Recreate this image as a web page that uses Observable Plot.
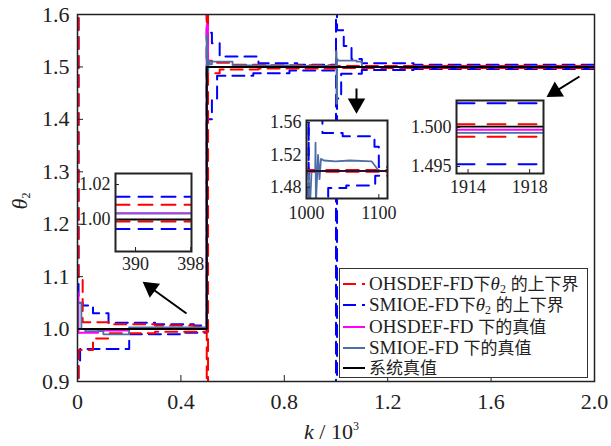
<!DOCTYPE html>
<html><head><meta charset="utf-8">
<script src="https://cdn.jsdelivr.net/npm/d3@7"></script>
<script src="https://cdn.jsdelivr.net/npm/@observablehq/plot@0.6"></script>
<style>
body{margin:0;background:#fff;}
#wrap{position:relative;width:611px;height:446px;overflow:hidden;font-family:"Liberation Serif","Times New Roman",Tinos,"DejaVu Serif","Noto Sans CJK SC",serif;color:#222;}
#wrap svg{position:absolute;}
.lbl{position:absolute;white-space:nowrap;line-height:1;}
#legend{position:absolute;left:339px;top:268px;width:249px;height:110px;border:1.5px solid #333;background:#fff;box-sizing:border-box;}
.row{position:absolute;left:0;height:19px;line-height:19px;font-size:19px;white-space:nowrap;}
.row svg{position:absolute !important;left:3px;top:0;}
.row span.t{position:absolute;left:29px;top:0;line-height:19px;}
.cjk{font-family:"Noto Sans CJK SC",sans-serif;font-size:17px;line-height:17px;}
sub{font-size:12px;vertical-align:-3px;line-height:0;}
sup{font-size:12px;vertical-align:9px;line-height:0;}
</style>
</head><body>
<div id="wrap"></div>
<script>
// ---------- main chart data (k in units of 10^3) ----------
const xTicks = [0, 0.4, 0.8, 1.2, 1.6, 2.0];
const yTicks = [0.9, 1.0, 1.1, 1.2, 1.3, 1.4, 1.5, 1.6];

const sysK = [0, 0.5, 2.0];
const sysV = [1.0, 1.5, 1.5];

const ohsUbK = [0, 0.004, 0.02, 0.12, 0.3, 0.45, 0.5, 0.505, 0.52, 0.6, 0.75, 1.0, 2.0];
const ohsUb  = [1.7, 1.10, 1.013, 1.009, 1.007, 1.005, 1.7, 1.512, 1.508, 1.504, 1.503, 1.502, 1.502];
const ohsLbK = [0, 0.004, 0.06, 0.12, 0.3, 0.5, 0.505, 0.55, 0.7, 1.0, 2.0];
const ohsLb  = [0.8, 0.96, 0.982, 0.992, 0.995, 0.8, 1.488, 1.495, 1.497, 1.498, 1.498];

const smiUbK = [0, 0.004, 0.02, 0.06, 0.12, 0.3, 0.45, 0.5, 0.503, 0.52, 0.55, 0.7, 0.85, 1.0, 1.004, 1.03, 1.06, 1.1, 1.3, 2.0];
const smiUb  = [1.7, 1.05, 1.045, 1.03, 1.012, 1.009, 1.007, 1.7, 1.565, 1.545, 1.52, 1.507, 1.504, 1.7, 1.57, 1.54, 1.515, 1.507, 1.504, 1.504];
const smiLbK = [0, 0.004, 0.01, 0.2, 0.4, 0.5, 0.52, 0.54, 0.68, 0.82, 1.0, 1.004, 1.02, 1.1, 1.3, 2.0];
const smiLb  = [0.8, 0.94, 0.962, 0.99, 0.993, 1.40, 1.44, 1.483, 1.488, 1.493, 0.8, 1.44, 1.487, 1.494, 1.496, 1.496];

const ohsEstK = [0, 0.004, 0.08, 0.2, 0.5, 0.505, 2.0];
const ohsEst  = [1.07, 0.993, 0.997, 1.002, 1.58, 1.5, 1.5];

const smiEstK = [0, 0.002, 0.015, 0.03, 0.1, 0.2, 0.5, 0.502, 0.506, 0.512, 0.52, 0.6, 0.85, 1.0, 1.002, 1.004, 1.006, 1.02, 1.08, 1.1, 2.0];
const smiEst  = [1.0, 1.05, 1.0, 0.996, 0.99, 1.003, 1.56, 1.49, 1.512, 1.505, 1.51, 1.503, 1.502, 1.53, 1.43, 1.515, 1.512, 1.512, 1.51, 1.5, 1.5];

// annotation arrows (data coords): tail, head centre, head rotation
const arrowTailK = [0.4217, 1.0793, 1.942];
const arrowTailV = [1.0297, 1.4589, 1.4817];
const arrowHeadK = [0.2836, 1.0793, 1.8476];
const arrowHeadV = [1.0787, 1.4302, 1.4528];
const arrowRot   = [-54, 180, -122];

// ---------- inset 1 (k 387..398) ----------
const in1X = [387.1, 398.1];
const in1XTicks = [390, 398];
const in1YTicks = [1.00, 1.02];
const in1Dom = [0.9817, 1.0263];
const in1BlueU = 1.013, in1RedU = 1.0085, in1Mag = 1.0037, in1Slate = 1.0033, in1Black = 1.0, in1RedL = 0.9989, in1BlueL = 0.9945;

// ---------- inset 2 (k 1000..1112) ----------
const in2X = [1000, 1112];
const in2XTicks = [1000, 1100];
const in2YTicks = [1.48, 1.52, 1.56];
const in2Dom = [1.466, 1.5625];
const in2UbK = [1000, 1003, 1022, 1050, 1094, 1100, 1112];
const in2Ub  = [1.3, 1.6, 1.547, 1.543, 1.53, 1.505, 1.505];
const in2LbK = [1000, 1003, 1030, 1055, 1095, 1112];
const in2Lb  = [1.6, 1.3, 1.479, 1.482, 1.494, 1.494];
const in2EstK = [1000, 1003, 1003.5, 1005, 1007, 1012, 1012.5, 1013, 1016, 1018, 1020, 1024, 1040, 1060, 1090, 1096, 1100, 1112];
const in2Est  = [1.5, 1.5, 1.46, 1.46, 1.5, 1.5, 1.535, 1.46, 1.52, 1.49, 1.515, 1.513, 1.512, 1.513, 1.512, 1.505, 1.5, 1.5];
const in2RedU = 1.5008, in2RedL = 1.4994, in2Mag = 1.5, in2Black = 1.5;

// ---------- inset 3 (k 1913..1919) ----------
const in3X = [1913.25, 1918.9];
const in3XTicks = [1914, 1918];
const in3YTicks = [1.495, 1.500];
const in3Dom = [1.4941, 1.50346];
const in3BlueU = 1.5031, in3RedU = 1.5004, in3Black = 1.5001, in3Mag = 1.4997, in3Slate = 1.4993, in3RedL = 1.4988, in3BlueL = 1.4953;

// ---------- helpers ----------
const zip = (K, V) => K.map((k, i) => ({k, v: V[i]}));
const RED = "#ff0000", BLUE = "#0000ff", MAG = "#ff00ff", SLATE = "#4f6ea8", BLACK = "#000";
const DASH = "12,7";
const SERIF = '"Liberation Serif", "Times New Roman", Tinos, "DejaVu Serif", serif';
const wrap = document.getElementById("wrap");

function place(el, left, top) { el.style.left = left + "px"; el.style.top = top + "px"; wrap.appendChild(el); }

// ---------- main plot ----------
const main = Plot.plot({
  width: 611, height: 446,
  marginLeft: 77, marginRight: 17, marginTop: 14, marginBottom: 65,
  style: {fontFamily: SERIF, fontSize: "22px", color: "#222", background: "transparent", overflow: "visible"},
  x: {domain: [0, 2], label: null},
  y: {domain: [0.9, 1.6], label: null},
  marks: [
    Plot.line(zip(smiUbK, smiUb), {x: "k", y: "v", curve: "step-after", stroke: BLUE, strokeWidth: 2, strokeDasharray: DASH, clip: true}),
    Plot.line(zip(smiLbK, smiLb), {x: "k", y: "v", curve: "step-after", stroke: BLUE, strokeWidth: 2, strokeDasharray: DASH, clip: true}),
    Plot.line(zip(ohsUbK, ohsUb), {x: "k", y: "v", curve: "step-after", stroke: RED, strokeWidth: 2, strokeDasharray: DASH, clip: true}),
    Plot.line(zip(ohsLbK, ohsLb), {x: "k", y: "v", curve: "step-after", stroke: RED, strokeWidth: 2, strokeDasharray: DASH, clip: true}),
    Plot.line(zip(ohsEstK, ohsEst), {x: "k", y: "v", curve: "step-after", stroke: MAG, strokeWidth: 1.8, clip: true}),
    Plot.line(zip(smiEstK, smiEst), {x: "k", y: "v", curve: "step-after", stroke: SLATE, strokeWidth: 1.8, clip: true}),
    Plot.line(zip(sysK, sysV), {x: "k", y: "v", curve: "step-after", stroke: BLACK, strokeWidth: 2, clip: true}),
    Plot.frame({stroke: "#222", strokeWidth: 1.5}),
    Plot.axisX({ticks: xTicks, tickFormat: d => d === 0 ? "0" : d.toFixed(1), tickSize: -6, tickPadding: 18, fill: "#222", fontFamily: SERIF}),
    Plot.axisY({ticks: yTicks, tickFormat: d => d.toFixed(1), tickSize: -6, tickPadding: 14, fill: "#222", fontFamily: SERIF}),
    Plot.link(arrowTailK.map((k, i) => i), {x1: i => arrowTailK[i], y1: i => arrowTailV[i], x2: i => arrowHeadK[i], y2: i => arrowHeadV[i], stroke: BLACK, strokeWidth: 2}),
    Plot.dot(arrowHeadK.map((k, i) => i), {x: i => arrowHeadK[i], y: i => arrowHeadV[i], rotate: i => arrowRot[i], symbol: "triangle", r: 6.5, fill: BLACK, stroke: "none"})
  ]
});
place(main, 0, 0);

// ---------- inset builder ----------
function inset(o) {
  const svg = Plot.plot({
    width: o.w, height: o.h, marginLeft: o.ml, marginRight: o.w - o.ml - o.bw, marginTop: o.mt, marginBottom: o.h - o.mt - o.bh,
    style: {fontFamily: SERIF, fontSize: "18px", color: "#222", background: "transparent", overflow: "visible"},
    x: {domain: o.xdom, label: null},
    y: {domain: o.ydom, label: null},
    marks: [
      Plot.frame({fill: "white", stroke: "none"}),
      ...o.marks,
      Plot.frame({stroke: "#222", strokeWidth: 2}),
      Plot.axisX({ticks: o.xticks, tickFormat: d => String(d), tickSize: -4, tickPadding: o.xpad, fill: "#222", fontFamily: SERIF}),
      Plot.axisY({ticks: o.yticks, tickFormat: d => d.toFixed(o.yd), tickSize: -4, tickPadding: o.ypad, fill: "#222", fontFamily: SERIF})
    ]
  });
  place(svg, o.left, o.top);
}
const hline = (X, v, stroke, dash, sw) =>
  Plot.line(zip(X, X.map(() => v)), {x: "k", y: "v", stroke, strokeWidth: sw || 2, strokeDasharray: dash || null, clip: true});

// inset 1
inset({left: 65, top: 165, w: 140, h: 115, ml: 50, mt: 8, bw: 76, bh: 78,
  xdom: in1X, ydom: in1Dom, xticks: in1XTicks, yticks: in1YTicks, yd: 2, xpad: 10, ypad: 9,
  marks: [
    hline(in1X, in1BlueU, BLUE, "14,9"), hline(in1X, in1BlueL, BLUE, "14,9"),
    hline(in1X, in1RedU, RED, "14,9"), hline(in1X, in1RedL, RED, "14,9"),
    hline(in1X, in1Mag, MAG, null, 1.8), hline(in1X, in1Slate, "#7a5cc8", null, 1.8),
    hline(in1X, in1Black, BLACK, null, 2)
  ]});

// inset 2
inset({left: 256, top: 110, w: 145, h: 120, ml: 50, mt: 10, bw: 81, bh: 78,
  xdom: in2X, ydom: in2Dom, xticks: in2XTicks, yticks: in2YTicks, yd: 2, xpad: 12, ypad: 9,
  marks: [
    Plot.line(zip(in2UbK, in2Ub), {x: "k", y: "v", curve: "step-after", stroke: BLUE, strokeWidth: 2, strokeDasharray: "12,8", clip: true}),
    Plot.line(zip(in2LbK, in2Lb), {x: "k", y: "v", curve: "step-after", stroke: BLUE, strokeWidth: 2, strokeDasharray: "12,8", clip: true}),
    hline(in2X, in2RedU, RED, "12,8", 2.5), hline(in2X, in2RedL, RED, "12,8", 2.5),
    hline(in2X, in2Mag, MAG, null, 1.5),
    Plot.line(zip(in2EstK, in2Est), {x: "k", y: "v", stroke: SLATE, strokeWidth: 1.8, clip: true}),
    hline(in2X, in2Black, "#2a1030", null, 1.8)
  ]});

// inset 3
inset({left: 400, top: 90, w: 160, h: 115, ml: 56, mt: 10, bw: 87, bh: 73,
  xdom: in3X, ydom: in3Dom, xticks: in3XTicks, yticks: in3YTicks, yd: 3, xpad: 11, ypad: 9,
  marks: [
    hline(in3X, in3BlueU, BLUE, "18,13"), hline(in3X, in3BlueL, BLUE, "18,13"),
    hline(in3X, in3RedU, RED, "18,13"), hline(in3X, in3RedL, RED, "18,13"),
    hline(in3X, in3Black, BLACK, null, 1.8),
    hline(in3X, in3Mag, MAG, null, 2), hline(in3X, in3Slate, SLATE, null, 1.8)
  ]});

// ---------- axis titles ----------
const xl = document.createElement("div");
xl.className = "lbl"; xl.style.fontSize = "22px";
xl.innerHTML = "<i>k</i> / 10<sup>3</sup>";
place(xl, 304, 421);

const yl = document.createElement("div");
yl.className = "lbl"; yl.style.fontSize = "22px";
yl.style.transform = "rotate(-90deg)"; yl.style.transformOrigin = "center";
yl.innerHTML = "<i>θ</i><sub>2</sub>";
place(yl, 12, 190);

// ---------- legend ----------
const legendNames = [
  'OHSDEF-FD<span class="cjk">下</span><i>θ</i><sub>2</sub> <span class="cjk">的上下界</span>',
  'SMIOE-FD<span class="cjk">下</span><i>θ</i><sub>2</sub> <span class="cjk">的上下界</span>',
  'OHSDEF-FD <span class="cjk">下的真值</span>',
  'SMIOE-FD <span class="cjk">下的真值</span>',
  '<span class="cjk">系统真值</span>'
];
const legendColors = [RED, BLUE, MAG, SLATE, BLACK];
const legendDash = ["13,6", "13,6", null, null, null];
const legendRowTop = [4.5, 26, 47.5, 69, 88.5];
const lg = document.createElement("div");
lg.id = "legend";
legendNames.forEach((name, i) => {
  const r = document.createElement("div");
  r.className = "row"; r.style.top = legendRowTop[i] + "px";
  r.innerHTML = `<svg width="24" height="19"><line x1="0" x2="22" y1="10" y2="10" stroke="${legendColors[i]}" stroke-width="2" ${legendDash[i] ? `stroke-dasharray="${legendDash[i]}"` : ""}/></svg><span class="t">${name}</span>`;
  lg.appendChild(r);
});
wrap.appendChild(lg);
</script>
</body></html>
